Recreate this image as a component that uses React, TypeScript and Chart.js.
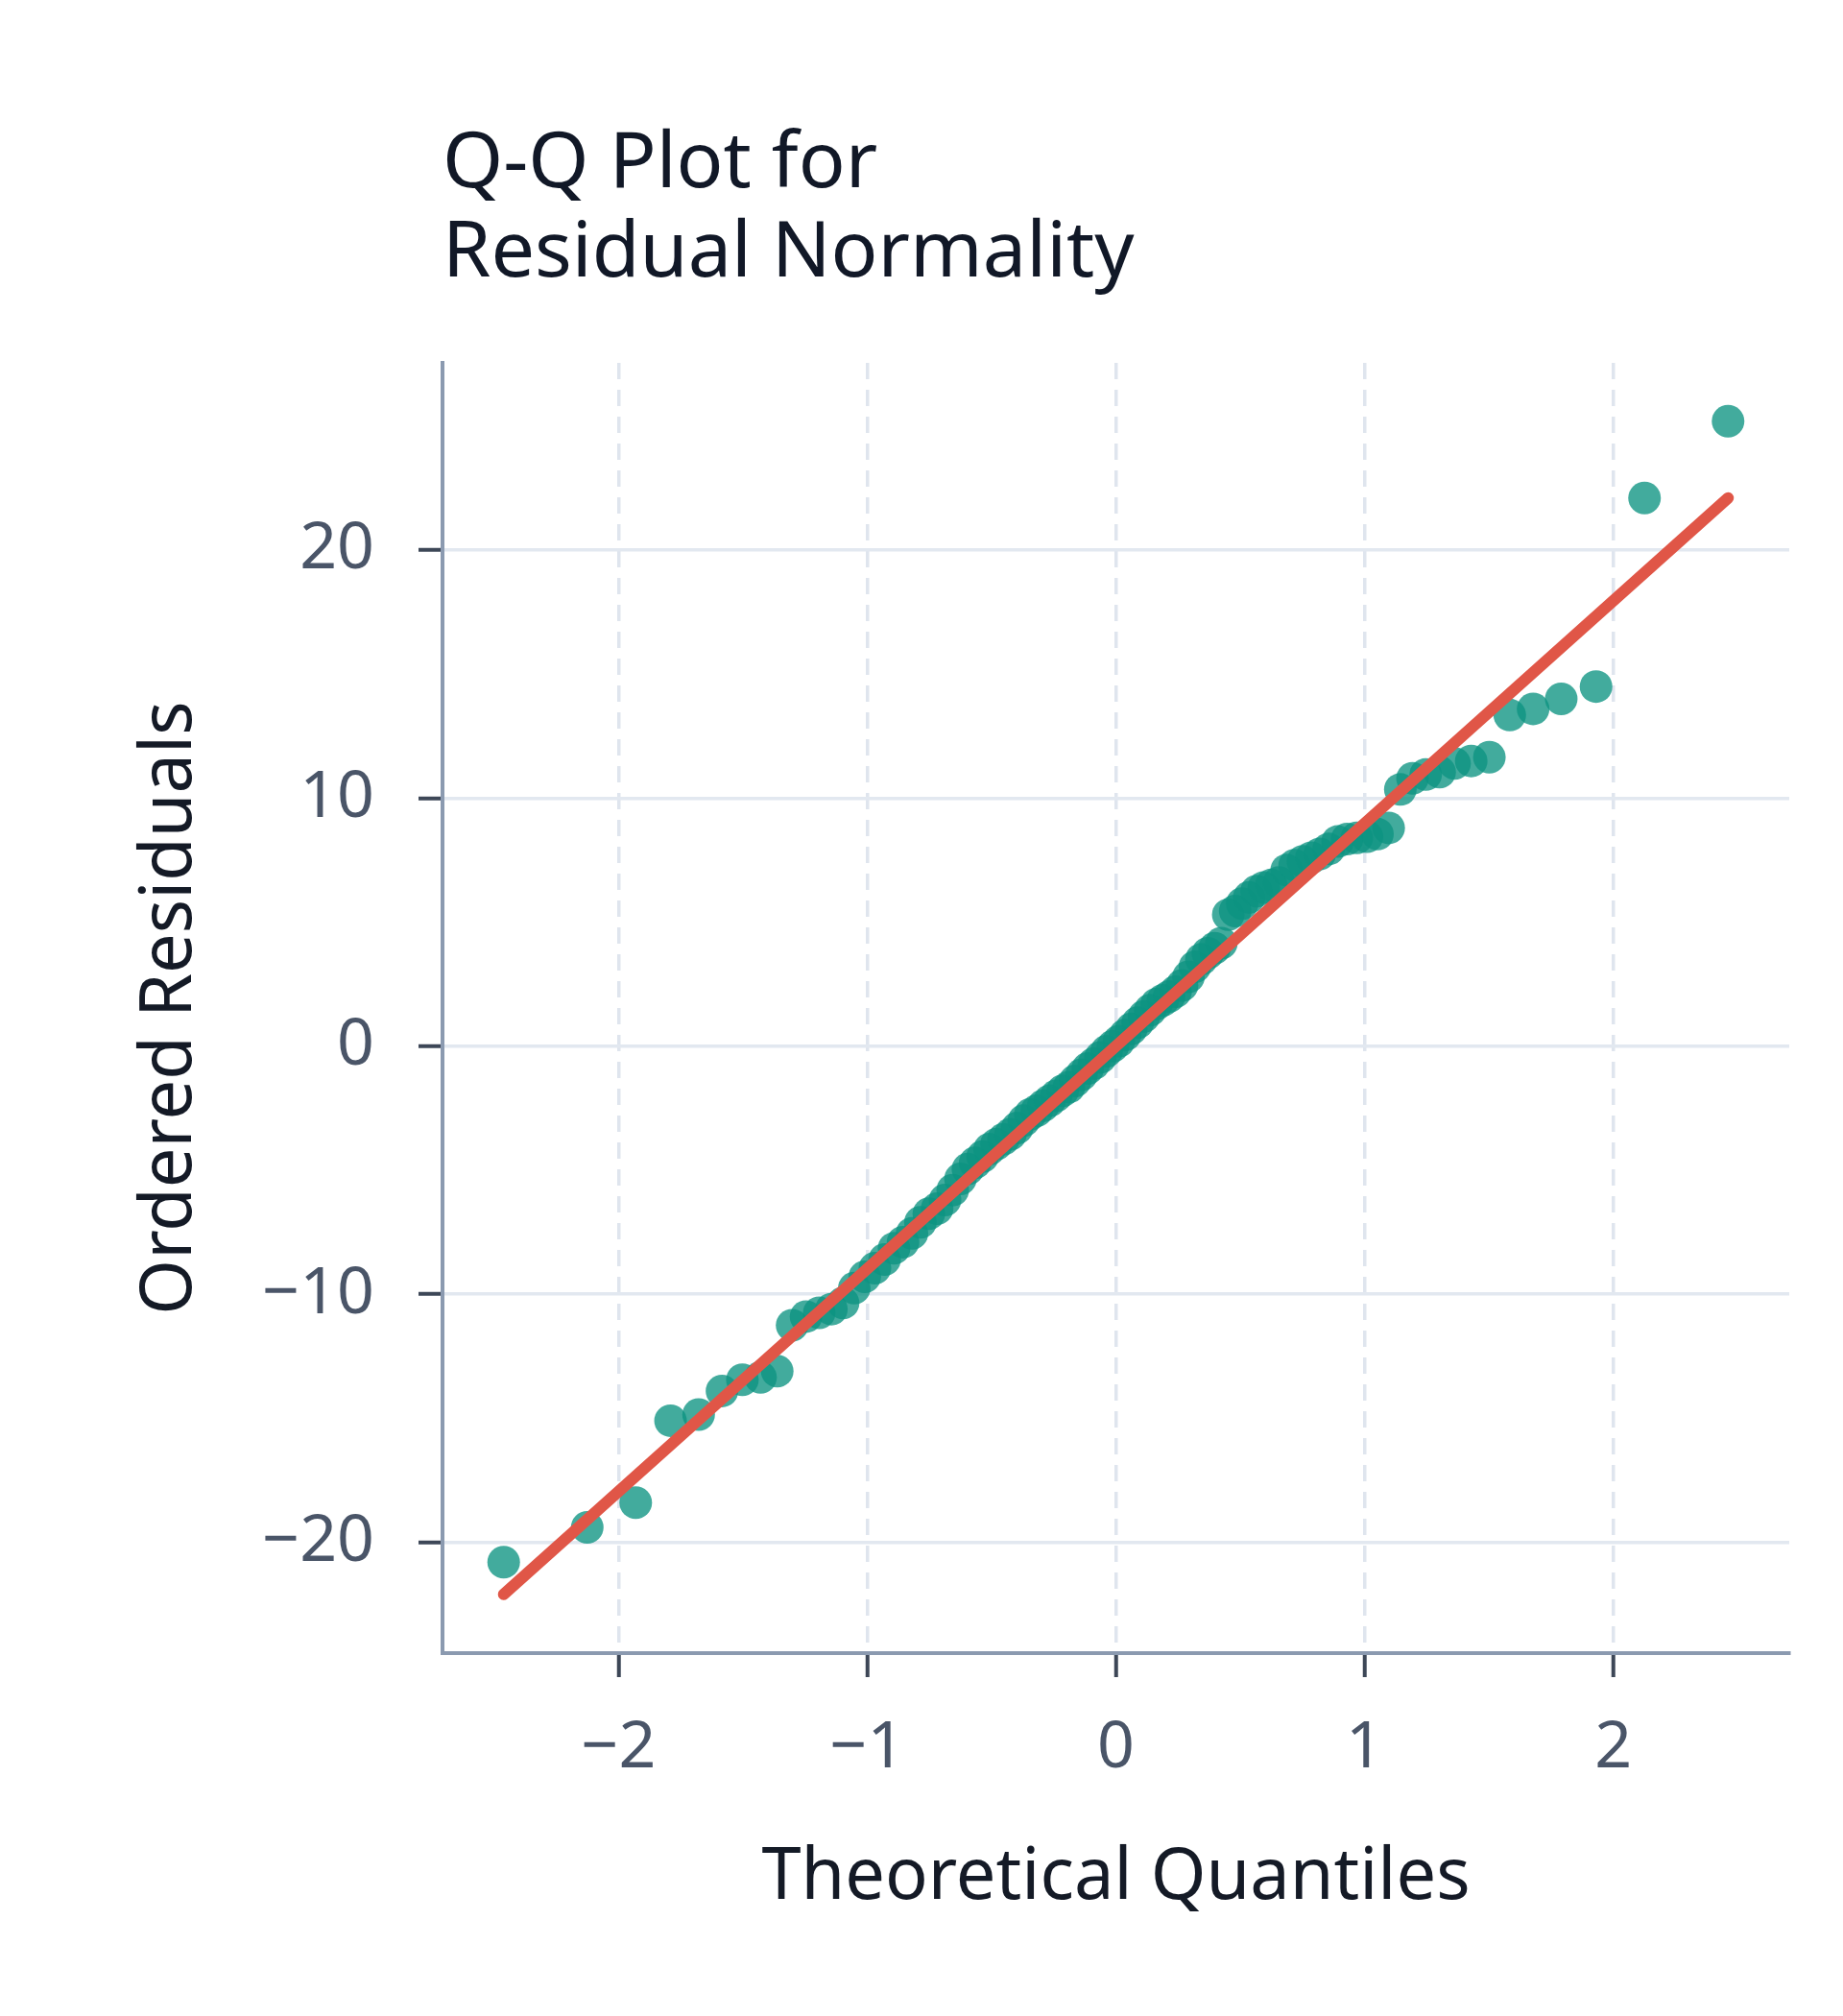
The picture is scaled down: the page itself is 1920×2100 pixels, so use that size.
import { useEffect, useRef } from "react"
import { Chart, registerables } from "chart.js"

Chart.register(...registerables)

// theoretical normal quantiles (x) and sorted residuals (y), 100 observations
const THEORETICAL_Q = [
  -2.462, -2.126, -1.931, -1.791, -1.678, -1.584, -1.502, -1.429, -1.362, -1.302,
  -1.246, -1.193, -1.144, -1.097, -1.052, -1.010, -0.969, -0.930, -0.892, -0.856,
  -0.820, -0.786, -0.752, -0.719, -0.687, -0.656, -0.625, -0.595, -0.566, -0.536,
  -0.508, -0.480, -0.452, -0.424, -0.397, -0.370, -0.344, -0.318, -0.292, -0.266,
  -0.240, -0.214, -0.189, -0.164, -0.138, -0.113, -0.088, -0.062, -0.037, -0.012,
  0.012, 0.037, 0.062, 0.088, 0.113, 0.138, 0.164, 0.189, 0.214, 0.240,
  0.266, 0.292, 0.318, 0.344, 0.370, 0.397, 0.424, 0.452, 0.480, 0.508,
  0.536, 0.566, 0.595, 0.625, 0.656, 0.687, 0.719, 0.752, 0.786, 0.820,
  0.856, 0.892, 0.930, 0.969, 1.010, 1.052, 1.097, 1.144, 1.193, 1.246,
  1.302, 1.362, 1.429, 1.502, 1.584, 1.678, 1.791, 1.931, 2.126, 2.462,
]

const ORDERED_RESID = [
  -20.8, -19.4, -18.4, -15.1, -14.85, -13.9, -13.45, -13.35, -13.1, -11.25,
  -10.9, -10.75, -10.6, -10.35, -9.75, -9.3, -8.95, -8.6, -8.15, -7.9,
  -7.55, -7.1, -6.75, -6.55, -6.2, -5.8, -5.35, -4.95, -4.7, -4.45,
  -4.15, -3.95, -3.75, -3.55, -3.3, -3.0, -2.75, -2.6, -2.4, -2.2,
  -2.0, -1.8, -1.65, -1.4, -1.15, -0.9, -0.7, -0.45, -0.2, 0.0,
  0.2, 0.45, 0.7, 0.95, 1.2, 1.45, 1.7, 1.85, 2.0, 2.2,
  2.45, 2.8, 3.2, 3.5, 3.75, 3.95, 4.15, 5.3, 5.45, 5.75,
  6.0, 6.25, 6.4, 6.5, 6.6, 7.1, 7.3, 7.45, 7.6, 7.75,
  7.95, 8.25, 8.35, 8.4, 8.45, 8.55, 8.8, 10.35, 10.8, 10.95,
  11.05, 11.4, 11.5, 11.65, 13.35, 13.6, 14.0, 14.5, 22.1, 25.2,
]

// reference line end points
const FIT_X = [-2.462, 2.462]
const FIT_Y = [-22.1, 22.1]

const X_TICKS = [-2, -1, 0, 1, 2]
const Y_TICKS = [-20, -10, 0, 10, 20]
const X_RANGE = [-2.708, 2.708]
const Y_RANGE = [-24.47, 27.55]

const FONT = "'Noto Sans', sans-serif"
const minus = (v: number) => String(v).replace("-", "\u2212")

export default function App() {
  const canvasRef = useRef<HTMLCanvasElement>(null)
  const chartRef = useRef<Chart | null>(null)

  useEffect(() => {
    if (!canvasRef.current) return
    chartRef.current?.destroy()

    chartRef.current = new Chart(canvasRef.current, {
      type: "scatter",
      data: {
        datasets: [
          {
            label: "fit",
            data: FIT_X.map((x, i) => ({ x, y: FIT_Y[i] })),
            showLine: true,
            borderColor: "#e05647",
            borderWidth: 12,
            borderCapStyle: "round",
            pointRadius: 0,
            order: 0,
          },
          {
            label: "residuals",
            data: THEORETICAL_Q.map((x, i) => ({ x, y: ORDERED_RESID[i] })),
            backgroundColor: "rgba(13, 148, 130, 0.78)",
            borderWidth: 0,
            pointRadius: 17,
            order: 1,
          },
        ],
      },
      options: {
        animation: false,
        responsive: true,
        maintainAspectRatio: false,
        devicePixelRatio: 1,
        layout: { padding: { left: 0, right: 56, top: 0, bottom: 0 } },
        plugins: {
          legend: { display: false },
          tooltip: { enabled: false },
          title: {
            display: true,
            text: ["Q-Q Plot for", "Residual Normality"],
            align: "start",
            fullSize: false,
            color: "#111827",
            font: { family: FONT, size: 81, weight: "normal", lineHeight: 1.148 },
            padding: { top: 125, bottom: 67 },
          },
        },
        scales: {
          x: {
            type: "linear",
            min: X_RANGE[0],
            max: X_RANGE[1],
            afterBuildTicks: s => { s.ticks = X_TICKS.map(value => ({ value })) },
            afterFit: s => { s.height = 378 },
            grid: { color: "#dfe5ee", lineWidth: 3.5, tickColor: "#3d4757", tickWidth: 4, tickLength: 25 },
            border: { color: "#8b9ab0", width: 4, dash: [17, 11] },
            ticks: {
              color: "#4a5568",
              padding: 34,
              font: { family: FONT, size: 68 },
              callback: v => minus(Number(v)),
            },
            title: {
              display: true,
              text: "Theoretical Quantiles",
              color: "#141a26",
              font: { family: FONT, size: 74 },
              padding: { top: 0, bottom: 99 },
            },
          },
          y: {
            type: "linear",
            min: Y_RANGE[0],
            max: Y_RANGE[1],
            afterBuildTicks: s => { s.ticks = Y_TICKS.map(value => ({ value })) },
            afterFit: s => { s.width = 461 },
            grid: { color: "#e2e8f0", lineWidth: 3.5, tickColor: "#3d4757", tickWidth: 4, tickLength: 25 },
            border: { color: "#8b9ab0", width: 4 },
            ticks: {
              color: "#4a5568",
              padding: 46,
              font: { family: FONT, size: 68 },
              callback: v => minus(Number(v)),
            },
            title: {
              display: true,
              text: "Ordered Residuals",
              color: "#141a26",
              font: { family: FONT, size: 74 },
              padding: { top: 134, bottom: 0 },
            },
          },
        },
      },
    })

    return () => { chartRef.current?.destroy() }
  }, [])

  return (
    <div style={{ position: "absolute", left: 0, top: 0, width: 1920, height: 2100, background: "#fff" }}>
      <canvas ref={canvasRef} aria-label="Q-Q plot of ordered residuals against theoretical quantiles" role="img" />
    </div>
  )
}
